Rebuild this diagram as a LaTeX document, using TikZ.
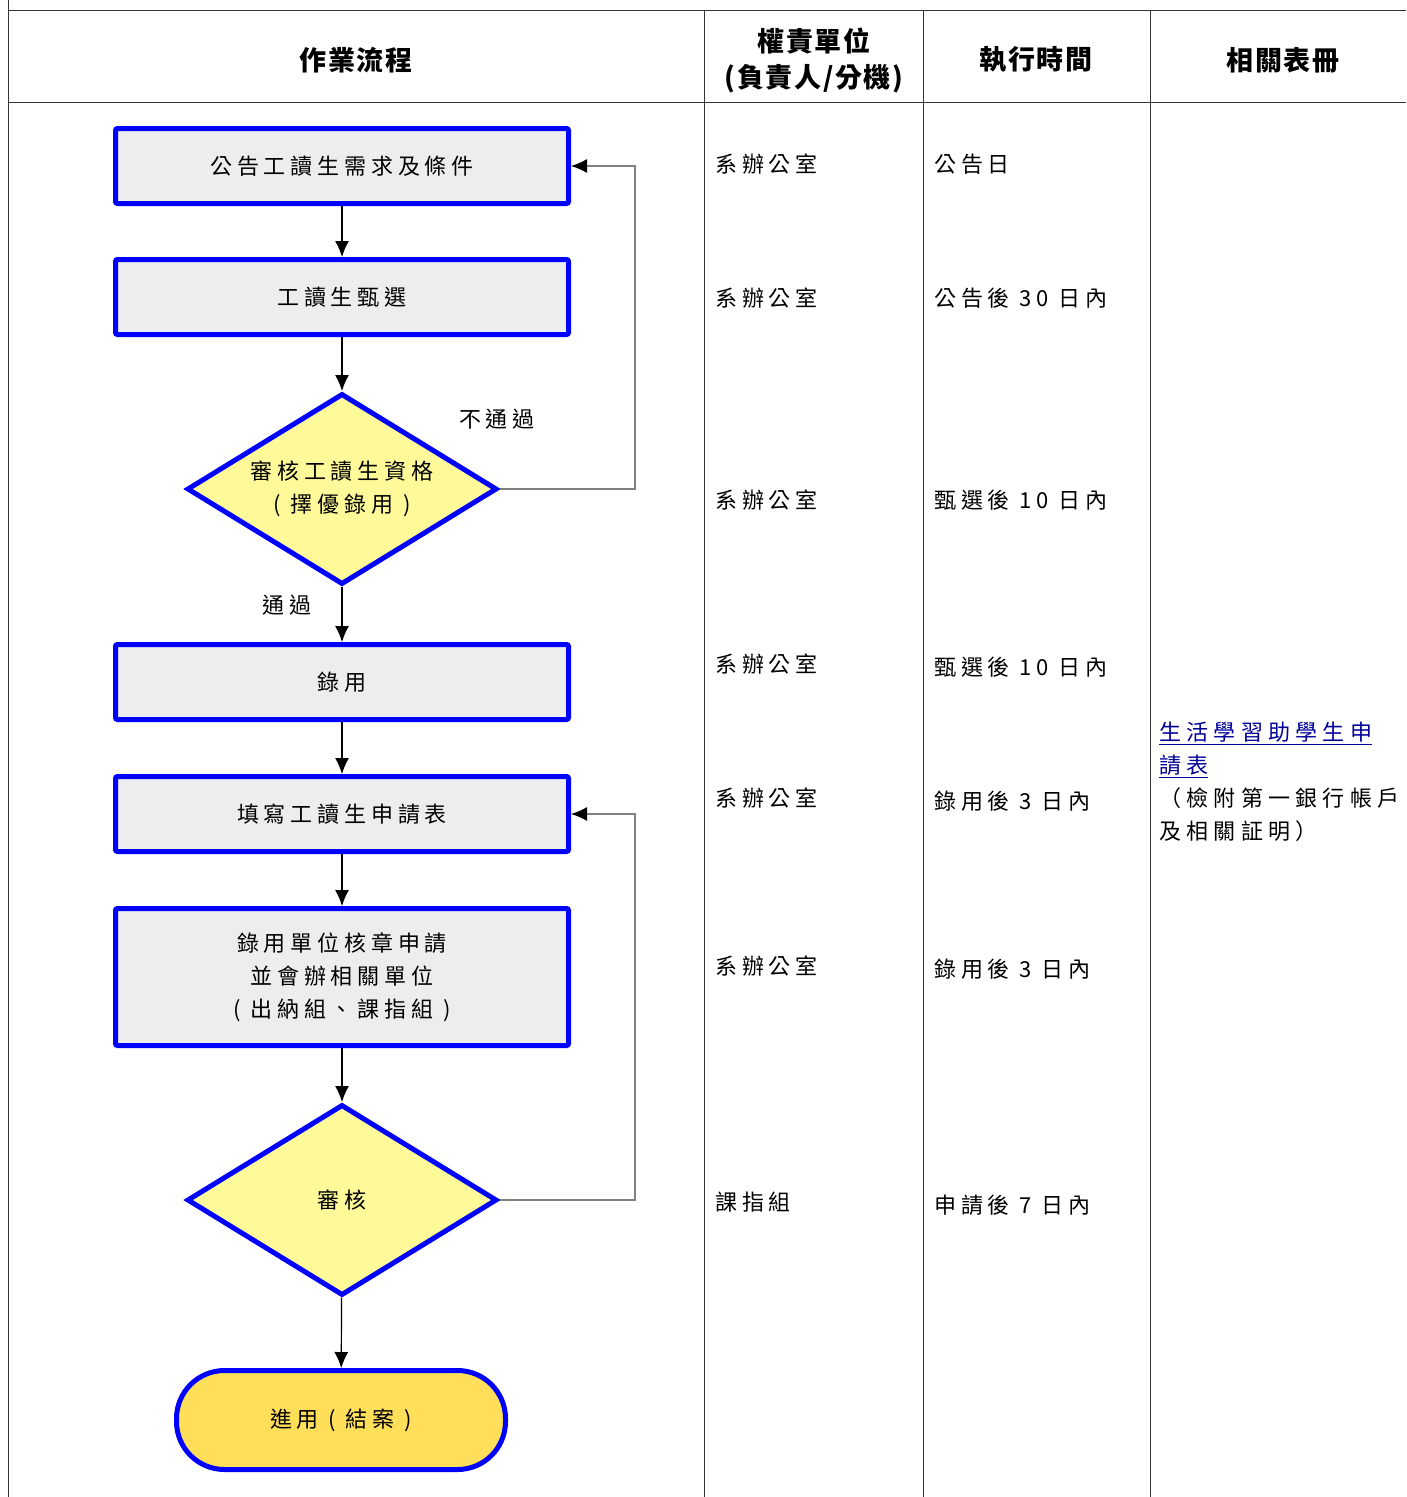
\documentclass[tikz,border=0pt]{standalone}
\usepackage{fontspec}
\setmainfont{Noto Sans CJK TC}[LetterSpace=22]
\usetikzlibrary{shapes.geometric,arrows.meta}

\begin{document}
\begin{tikzpicture}[x=1pt,y=-1pt]
        \tikzset{every node/.style={font=\fontsize{22}{33}\selectfont},
          stepbox/.style={draw=blue,line width=5pt,fill=black!7,rounded corners=2pt,
            minimum width=453pt,minimum height=75pt,align=center,inner sep=0pt},
          check/.style={draw=blue,line width=5pt,fill=yellow!40!white,diamond,aspect=1.6,
            minimum width=310pt,minimum height=191pt,align=center,inner sep=0pt},
          finish/.style={draw=blue,line width=5pt,fill={rgb,255:red,255;green,223;blue,90},
            rounded corners=48pt,minimum width=329pt,minimum height=99pt,inner sep=0pt},
          flow/.style={draw,line width=1.2pt,-{Latex[length=16pt,width=14pt]}},
          back/.style={draw=black!50,line width=1.2pt,-{Latex[length=16pt,width=14pt,color=black]}},
          head/.style={font=\fontsize{27}{36}\selectfont\bfseries\addfontfeature{LetterSpace=6},align=center},
          cell/.style={anchor=west,inner sep=0pt},
          grid/.style={draw=black!80,line width=1pt}}
        \useasboundingbox (0,0) rectangle (1406,1497);
        % table lines
        \draw[grid] (8,0) -- (8,1497);
        \draw[grid] (8,10) -- (1406,10);
        \draw[grid] (8,102) -- (1406,102);
        \foreach \x in {704,923,1150}
          \draw[grid] (\x,10) -- (\x,1497);
        % headers
        \node[head] (h1) at (356,60) {作業流程};
        \node[head] (h2) at (814,60) {權責單位\\(負責人/分機)};
        \node[head] (h3) at (1036,60) {執行時間};
        \node[head] (h4) at (1283,60) {相關表冊};
        % flow
        \node[stepbox] (b1) at (342,166) {公告工讀生需求及條件};
        \node[stepbox] (b2) at (342,297) {工讀生甄選};
        \node[check] (d1) at (342,489) {審核工讀生資格\\( 擇優錄用 )};
        \node[stepbox] (b3) at (342,682) {錄用};
        \node[stepbox] (b4) at (342,814) {填寫工讀生申請表};
        \node[stepbox,minimum height=137pt] (b5) at (342,977) {錄用單位核章申請\\並會辦相關單位\\( 出納組、課指組 )};
        \node[check] (d2) at (342,1200) {審核};
        \node[finish] (e) at (341,1420) {進用 ( 結案 )};
        \draw[flow] (b1) -- (b2);
        \draw[flow] (b2) -- (d1);
        \draw[flow] (d1) -- (b3);
        \draw[flow] (b3) -- (b4);
        \draw[flow] (b4) -- (b5);
        \draw[flow] (b5) -- (d2);
        \draw[flow] (d2) -- (e);
        \coordinate (r1) at (635,489);
        \coordinate (r2) at (635,1200);
        \draw[back] (d1.east) -- (r1) |- (b1.east);
        \draw[back] (d2.east) -- (r2) |- (b4.east);
        \node (no) at (497,419) {不通過};
        \node (yes) at (287,605) {通過};
        % unit column
        \foreach \y/\n in {164/u1,298/u2,500/u3,664/u4,798/u5,966/u6}
          \node[cell] (\n) at (715,\y) {系辦公室};
        \node[cell] (u7) at (715,1202) {課指組};
        % time column
        \node[cell] (t1) at (934,164) {公告日};
        \node[cell] (t2) at (934,298) {公告後 30 日內};
        \node[cell] (t3) at (934,500) {甄選後 10 日內};
        \node[cell] (t4) at (934,667) {甄選後 10 日內};
        \node[cell] (t5) at (934,801) {錄用後 3 日內};
        \node[cell] (t6) at (934,969) {錄用後 3 日內};
        \node[cell] (t7) at (934,1205) {申請後 7 日內};
        % forms column
        \node[cell,align=left,anchor=north west,font=\fontsize{22}{33}\selectfont\addfontfeature{LetterSpace=24}] (f1) at (1159,722)
          {\textcolor{blue!60!black}{\underline{生活學習助學生申}}\\
           \textcolor{blue!60!black}{\underline{請表}}\\
           （檢附第一銀行帳戶\\及相關証明）};
      \end{tikzpicture}
\end{document}
